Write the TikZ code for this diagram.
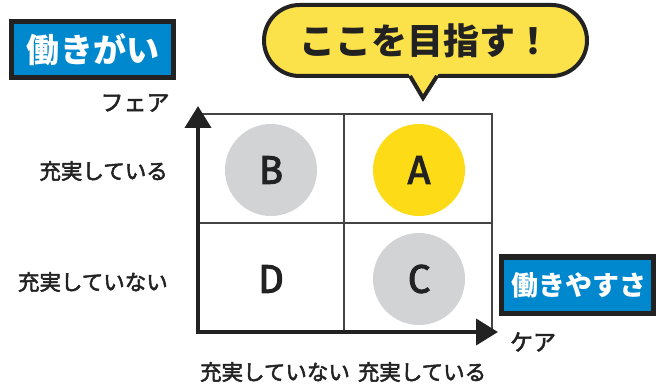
\documentclass[tikz,border=0pt]{standalone}
\usepackage{fontspec}
\setmainfont{Noto Sans CJK JP}
\newfontfamily\jp{Noto Sans CJK JP}
\newfontfamily\jpm[FakeBold=2.4]{Noto Sans CJK JP}
\newfontfamily\lat[FakeBold=2.4]{Fira Sans}
\usetikzlibrary{arrows.meta}
\definecolor{bluebox}{HTML}{0088CE}
\definecolor{bubbleyellow}{HTML}{FCE24A}
\definecolor{circyellow}{HTML}{FDDB17}
\definecolor{circgray}{HTML}{D2D3D5}
\definecolor{gridgray}{HTML}{444444}
\definecolor{ink}{HTML}{222222}
\tikzset{
  gridline/.style={draw=gridgray, line width=1.4pt},
  axisline/.style={draw=ink, line width=4pt, -{Triangle[length=22pt,width=26pt]}},
  catbox/.style={draw=ink, fill=bluebox, line width=5pt},
  cattext/.style={text=white, font=\jp\bfseries, inner sep=0pt},
  quadcirc/.style={circle, minimum size=92pt, inner sep=0pt, font=\lat\fontsize{40}{40}\selectfont, text=ink},
  axislabel/.style={font=\jpm\fontsize{21.5}{21.5}\selectfont, text=ink, inner sep=0pt},
  bubble/.style={draw=ink, fill=bubbleyellow, line width=4pt}
}
\begin{document}
\begin{tikzpicture}[x=1pt, y=-1pt]
\useasboundingbox (0,0) rectangle (658,387);
% grid
\draw[gridline] (198,114) rectangle (492,332);
\draw[gridline] (344,114) -- (344,332);
\draw[gridline] (198,223) -- (492,223);
% circles
\node[quadcirc, fill=circgray] (B) at (271,170) {B};
\node[quadcirc, fill=circyellow] (A) at (419,170) {A};
\node[quadcirc, fill=circgray] (C) at (419,279) {C};
\node[quadcirc] (D) at (271,279) {D};
% axes
\coordinate (O) at (198,332);
\coordinate (Ytip) at (198,106);
\coordinate (Xtip) at (498,332);
\draw[axisline, line cap=butt] ([yshift=2pt]O) -- (Ytip);
\draw[axisline] ([xshift=-2pt]O) -- (Xtip);
% axis labels
\node[axislabel, font=\jpm\fontsize{23}{23}\selectfont] (fair) at (135,103) {フェア};
\node[axislabel, font=\jpm\fontsize{23}{23}\selectfont] (care) at (533,342) {ケア};
\node[axislabel, anchor=east] (yhi) at (168,171) {充実している};
\node[axislabel, anchor=east] (ylo) at (168,282) {充実していない};
\node[axislabel] (xlo) at (275,372) {充実していない};
\node[axislabel] (xhi) at (422,372) {充実している};
% category boxes
\draw[catbox] (11.5,21.5) rectangle (173.5,77.5);
\node[cattext, font=\jp\bfseries\fontsize{33}{33}\selectfont] (gai) at (93,50) {働きがい};
\draw[catbox] (501,257) rectangle (653,313);
\node[cattext, font=\jp\bfseries\fontsize{27}{27}\selectfont] (yasusa) at (579,285) {働きやすさ};
% bubble
\draw[bubble, rounded corners=35.5pt] (264,5) rectangle (587,76);
\fill[bubbleyellow] (408,73) -- (439,73) -- (423,98) -- cycle;
\draw[draw=ink, line width=4pt, line join=miter] (410,76) -- (423,98) -- (437,76);
\node[font=\jp\bfseries\fontsize{36}{36}\selectfont, text=ink, inner sep=0pt] (goal) at (425,41) {ここを目指す！};
\end{tikzpicture}
\end{document}
